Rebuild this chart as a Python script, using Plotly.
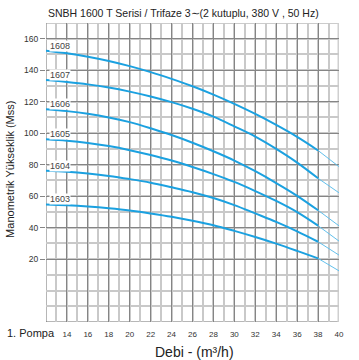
import plotly.graph_objects as go

# ---- data ----
flow = [12, 14, 16, 18, 20, 22, 24, 26, 28, 30, 32, 34, 36, 38, 40]
models = ["1608", "1607", "1606", "1605", "1604", "1603"]
head_1608 = [152.4, 150.8, 148.6, 145.9, 142.6, 138.8, 134.5, 129.8, 124.5, 118.6, 112.2, 105.2, 97.6, 89.0, 78.7]
head_1607 = [133.7, 132.5, 131.0, 129.0, 126.4, 123.3, 119.7, 115.5, 110.5, 104.3, 97.8, 90.0, 81.3, 71.3, 62.1]
head_1606 = [115.2, 114.0, 112.3, 110.0, 107.0, 103.1, 98.8, 93.9, 88.5, 82.6, 75.8, 68.3, 60.2, 51.0, 41.1]
head_1605 = [96.1, 95.2, 93.8, 91.8, 89.2, 86.1, 82.6, 78.5, 74.0, 69.0, 63.2, 56.9, 49.8, 41.2, 31.4]
head_1604 = [76.1, 75.4, 74.3, 72.8, 70.8, 68.5, 65.6, 62.5, 58.8, 54.3, 49.0, 43.6, 37.6, 31.0, 22.5]
head_1603 = [54.7, 54.2, 53.4, 52.3, 50.9, 49.0, 46.9, 44.4, 41.5, 37.9, 34.0, 29.8, 25.2, 20.4, 12.5]
heads = [head_1608, head_1607, head_1606, head_1605, head_1604, head_1603]

x_ticks = [14, 16, 18, 20, 22, 24, 26, 28, 30, 32, 34, 36, 38, 40]
y_ticks = [20, 40, 60, 80, 100, 120, 140, 160]

title_text = "SNBH 1600 T Serisi / Trifaze 3\u223c(2 kutuplu, 380 V , 50 Hz)"
y_title = "Manometrik Yükseklik (Mss)"
x_title = "Debi - (m³/h)"
pump_label = "1. Pompa"

FONT = "Liberation Sans, Arial, sans-serif"
BLUE = "#1ba1e0"
BLUE_THIN = "#62c0ec"
split = flow.index(38)

fig = go.Figure()
for name, h in zip(models, heads):
    fig.add_trace(go.Scatter(x=flow[:split + 1], y=h[:split + 1], mode="lines",
                             line=dict(color=BLUE, width=2, shape="spline"),
                             showlegend=False, hoverinfo="skip"))
    fig.add_trace(go.Scatter(x=flow[split:], y=h[split:], mode="lines",
                             line=dict(color=BLUE_THIN, width=1, shape="spline"),
                             showlegend=False, hoverinfo="skip"))
    fig.add_annotation(x=12.3, y=h[0] + 3.2, text=name, showarrow=False,
                       xanchor="left", yanchor="middle", bgcolor="white",
                       borderpad=0, font=dict(family=FONT, size=9, color="#444"))

DARK = "#858585"
LIGHT = "#c9c9c9"

fig.update_xaxes(range=[12, 40], tickvals=x_ticks, showgrid=True, gridcolor=DARK, gridwidth=1,
                 minor=dict(dtick=1, tick0=12, showgrid=True, gridcolor=LIGHT, gridwidth=2),
                 ticks="outside", ticklen=4, tickcolor="rgba(0,0,0,0)",
                 tickfont=dict(family=FONT, size=8, color="#333"),
                 zeroline=False, showline=False, fixedrange=True)
fig.update_yaxes(range=[-20, 170], tickvals=y_ticks, showgrid=True, gridcolor=DARK, gridwidth=1,
                 minor=dict(dtick=10, tick0=0, showgrid=True, gridcolor=LIGHT, gridwidth=2),
                 ticks="outside", ticklen=5, tickcolor=DARK, tickwidth=1,
                 tickfont=dict(family=FONT, size=8.5, color="#333"),
                 zeroline=False, showline=False, fixedrange=True)

# darker lower grid lines and the plot frame
for yv in [10, 0, -10]:
    fig.add_shape(type="line", xref="x", yref="y", x0=12, x1=40, y0=yv, y1=yv,
                  line=dict(color=DARK, width=1), layer="below")
fig.add_shape(type="line", xref="x", yref="y", x0=12, x1=12, y0=-20, y1=170,
              line=dict(color="#6e6e6e", width=1), layer="below")
fig.add_shape(type="line", xref="x", yref="y", x0=12, x1=40, y0=-20, y1=-20,
              line=dict(color="#6e6e6e", width=1), layer="below")
fig.add_shape(type="line", xref="x", yref="y", x0=12, x1=40, y0=170, y1=170,
              line=dict(color="#9a9a9a", width=1), layer="below")
fig.add_shape(type="line", xref="x", yref="y", x0=40, x1=40, y0=-20, y1=170,
              line=dict(color="#cfcfcf", width=3), layer="below")

fig.add_annotation(xref="paper", yref="paper", x=-0.125, y=0.51, text=y_title,
                   textangle=-90, showarrow=False, xanchor="center", yanchor="middle",
                   font=dict(family=FONT, size=11, color="#222"))
fig.add_annotation(xref="paper", yref="paper", x=0.0, y=1.0, yshift=10, text=title_text,
                   showarrow=False, xanchor="left", yanchor="middle",
                   font=dict(family=FONT, size=10.5, color="#222"))
fig.add_annotation(xref="paper", yref="paper", x=-0.14, y=0, yshift=-11, text=pump_label,
                   showarrow=False, xanchor="left", yanchor="middle",
                   font=dict(family=FONT, size=11, color="#222"))
fig.add_annotation(xref="paper", yref="paper", x=0.507, y=0, yshift=-30, text=x_title,
                   showarrow=False, xanchor="center", yanchor="middle",
                   font=dict(family=FONT, size=14, color="#222"))

fig.update_layout(width=359, height=360, margin=dict(l=46, r=20, t=23, b=38),
                  paper_bgcolor="white", plot_bgcolor="white", showlegend=False)

# remove the default 8 px page margin so the figure sits at the window's corner
fig.write_html("out.html", config={"displayModeBar": False},
               post_script="document.body.style.margin='0px';")
